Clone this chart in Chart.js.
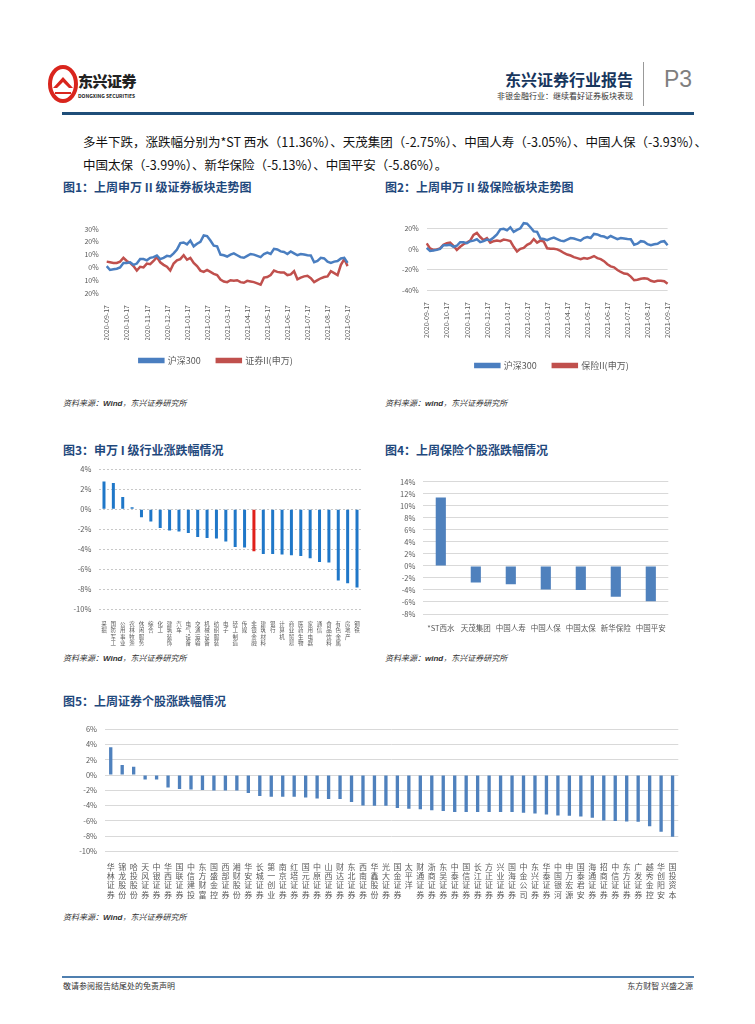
<!DOCTYPE html>
<html><head><meta charset="utf-8">
<script src="https://cdn.jsdelivr.net/npm/chart.js@4.4.1/dist/chart.umd.min.js"></script>
<style>
html,body{margin:0;padding:0;background:#fff;}
body{width:755px;height:1024px;position:relative;overflow:hidden;font-family:"Noto Sans CJK SC","Noto Sans",sans-serif;}
.abs{position:absolute;white-space:nowrap;}
.ttl{font-size:12px;font-weight:700;color:#1F497D;}
.src{font-size:8px;font-style:italic;color:#333;}
.cv{position:absolute;}
</style></head><body>
<!-- header -->
<svg class="abs" style="left:47px;top:64px" width="32" height="40" viewBox="0 0 32 40">
  <ellipse cx="16" cy="20" rx="13" ry="17" fill="none" stroke="#D9251D" stroke-width="4"/>
  <path d="M6 24 L16 13 L26 24 L22 24 L16 18 L10 24 Z" fill="#D9251D"/>
  <path d="M8 28 L24 28 L24 30 L8 30 Z" fill="#D9251D"/>
</svg>
<div class="abs" style="left:78px;top:70px;font-size:15px;font-weight:900;color:#222;letter-spacing:-0.5px">东兴证券</div>
<div class="abs" style="left:78px;top:92px;font-size:5px;font-weight:700;color:#222">DONGXING SECURITIES</div>
<div class="abs" style="right:122px;top:67px;font-size:16px;font-weight:700;color:#17365D">东兴证券行业报告</div>
<div class="abs" style="right:122px;top:90px;font-size:8px;color:#333">非银金融行业：继续看好证券板块表现</div>
<div class="abs" style="left:643px;top:62px;width:1px;height:44px;background:#999"></div>
<div class="abs" style="left:664px;top:66px;font-size:23px;color:#7F7F7F;font-family:'Liberation Sans',sans-serif">P3</div>
<div class="abs" style="left:62px;top:112px;width:632px;height:3px;background:#1F4E79"></div>

<div class="abs" style="left:83px;top:132px;font-size:12.5px;color:#111;letter-spacing:0">多半下跌，涨跌幅分别为*ST 西水（11.36%）、天茂集团（-2.75%）、中国人寿（-3.05%）、中国人保（-3.93%）、</div>
<div class="abs" style="left:83px;top:155px;font-size:12.5px;color:#111;letter-spacing:0">中国太保（-3.99%）、新华保险（-5.13%）、中国平安（-5.86%）。</div>

<div class="abs ttl" style="left:63px;top:178px">图1：上周申万 II 级证券板块走势图</div>
<div class="abs ttl" style="left:385px;top:178px">图2：上周申万 II 级保险板块走势图</div>
<div class="abs ttl" style="left:63px;top:441px">图3：申万 I 级行业涨跌幅情况</div>
<div class="abs ttl" style="left:385px;top:441px">图4：上周保险个股涨跌幅情况</div>
<div class="abs ttl" style="left:63px;top:692px">图5：上周证券个股涨跌幅情况</div>

<div class="abs src" style="left:63px;top:397px">资料来源：<b style="font-family:'Liberation Sans'">Wind</b>，东兴证券研究所</div>
<div class="abs src" style="left:385px;top:397px">资料来源：<b style="font-family:'Liberation Sans'">wind</b>，东兴证券研究所</div>
<div class="abs src" style="left:63px;top:652px">资料来源：<b style="font-family:'Liberation Sans'">Wind</b>，东兴证券研究所</div>
<div class="abs src" style="left:385px;top:652px">资料来源：<b style="font-family:'Liberation Sans'">wind</b>，东兴证券研究所</div>
<div class="abs src" style="left:63px;top:911px">资料来源：<b style="font-family:'Liberation Sans'">Wind</b>，东兴证券研究所</div>

<div class="abs" style="left:62px;top:976px;width:632px;height:2px;background:#4F7FAF"></div>
<div class="abs" style="left:63px;top:980px;font-size:8px;color:#333">敬请参阅报告结尾处的免责声明</div>
<div class="abs" style="right:62px;top:980px;font-size:8px;color:#333">东方财智 兴盛之源</div>

<div class="cv" style="left:60px;top:215px;width:300px;height:160px"><canvas id="c1"></canvas></div>
<div class="cv" style="left:380px;top:205px;width:300px;height:175px"><canvas id="c2"></canvas></div>
<div class="cv" style="left:60px;top:455px;width:310px;height:195px"><canvas id="c3"></canvas></div>
<div class="cv" style="left:380px;top:465px;width:300px;height:175px"><canvas id="c4"></canvas></div>
<div class="cv" style="left:60px;top:715px;width:630px;height:190px"><canvas id="c5"></canvas></div>

<script>
// ---------- DATA ----------
const monthLabels = ["2020-09-17","2020-10-17","2020-11-17","2020-12-17","2021-01-17","2021-02-17","2021-03-17","2021-04-17","2021-05-17","2021-06-17","2021-07-17","2021-08-17","2021-09-17"];
const pointsPerMonth = 6;
const hs300 = [1,-2,-1.5,-1,0,3.5,3.5,4,2,3,6.5,6.5,5.5,7.5,8,9.3,6.5,7.5,9,8.5,11,14,19,19.5,18,21,16.5,18.5,20,25,24.5,21,17,16.5,10,9.5,8.5,10,11,9.5,8,7.5,9,10.5,10,9,8,10.5,11.5,10.5,14.5,14,12.5,12,10.5,12.5,11,9.5,10.5,10,9.5,9.3,4,5,7.5,7,4.5,3.5,4.5,5,7,7.5,3.5];
const securitiesII = [4.5,4,3.5,3.5,4.5,7.5,5,3.5,1,-2.5,0.5,0,3,2.5,5,8,4,2,0.5,-2.5,3,5.5,6.5,9.5,6,7.5,3.5,1,-2.5,-3.5,-2,-3.5,-5,-6,-9.5,-11,-11.5,-10,-10.5,-10,-11.5,-12,-10.5,-11,-11.5,-12.5,-13.5,-8,-7.5,-6,-2.5,-3.5,-4,-4,-6,-5.5,-3,-9.3,-8,-7,-6.5,-8.5,-11.5,-10,-8.5,-7.5,-7,-3,-4.5,-6,2,6.5,1];
const insuranceII = [5.3,0.5,-1,-0.5,0.5,4,5.5,6,3,-1,2,4.5,6,8,13.5,15.5,11.5,8.5,10.5,6,7.5,8,7.5,9,8.5,7.5,2,-2.5,0,1,4,5.5,9.5,6,8,7,0.5,0,0,-0.5,-2,-4,-5.5,-6.5,-8,-9,-10,-9,-9.5,-8.5,-7,-9,-10,-12,-15,-17,-18,-20.5,-22.5,-24,-24.5,-27,-30.5,-30,-29,-28.5,-29,-31,-32,-31,-31,-31.5,-34];

const industries = ["采掘","国防军工","公用事业","农林牧渔","休闲服务","综合","化工","建筑装饰","汽车","电气设备","交通运输","机械设备","纺织服装","电子","轻工制造","传媒","非银金融","建筑材料","银行","计算机","商业贸易","医药生物","家用电器","通信","食品饮料","有色金属","房地产","钢铁"];
const industryChg = [2.77,2.63,1.23,0.2,-0.8,-1.23,-1.87,-2.13,-2.23,-2.37,-2.77,-2.87,-2.93,-3.23,-3.77,-3.83,-4.2,-4.47,-4.47,-4.53,-4.6,-4.67,-4.9,-5.27,-5.33,-7.13,-7.4,-7.83];
const highlightIndustry = "非银金融";

const insurers = ["*ST西水","天茂集团","中国人寿","中国人保","中国太保","新华保险","中国平安"];
const insurerChg = [11.36,-2.75,-3.05,-3.93,-3.99,-5.13,-5.86];

const brokers = ["华林证券","锦龙股份","哈投股份","天风证券","中银证券","华西证券","国联证券","中信建投","东方财富","国盛金控","西部证券","湘财股份","华安证券","长城证券","第一创业","南京证券","红塔证券","国元证券","中原证券","山西证券","财达证券","东北证券","西南证券","华鑫股份","光大证券","国金证券","太平洋","财通证券","浙商证券","东吴证券","中泰证券","国信证券","长江证券","方正证券","兴业证券","国海证券","中金公司","东兴证券","华泰证券","中国银河","申万宏源","国泰君安","海通证券","招商证券","中信证券","东方证券","广发证券","越秀金控","华创阳安","国投资本"];
const brokerChg = [3.63,1.31,1.09,-0.57,-0.57,-1.62,-1.84,-1.88,-1.97,-2.01,-2.01,-2.01,-2.36,-2.75,-2.84,-2.84,-2.84,-2.93,-3.06,-3.15,-3.15,-3.54,-3.98,-4.02,-4.02,-4.33,-4.42,-4.5,-4.63,-4.72,-4.85,-4.85,-4.85,-4.85,-4.85,-4.85,-4.94,-5.03,-5.16,-5.29,-5.33,-5.42,-5.6,-5.95,-6.03,-6.08,-6.12,-6.73,-7.43,-8.09];

// ---------- COMMON ----------
Chart.defaults.font.family = "'Noto Sans CJK SC','Noto Sans',sans-serif";
Chart.defaults.color = "#595959";
Chart.defaults.animation = false;
const BLUE_L = "#4A7EC0", RED_L = "#C0504D";
const tickFont = {size:7};

// shifts the bottom legend horizontally (reference legend is not centred on the canvas)
const legendShift = {
  id:"legendShift",
  afterLayout(chart, args, opts){
    if (chart.legend && opts.dx){ chart.legend.left += opts.dx; chart.legend.right += opts.dx; }
  }
};

function lineChart(id, redSeries, redName, yMin, yMax, showGrid, absLabels, pad, xH, dx){
  const labels = hs300.map((_, i) => i % pointsPerMonth === 0 ? monthLabels[i / pointsPerMonth] : "");
  new Chart(document.getElementById(id), {
    type: "line",
    data: { labels, datasets: [
      {label:"沪深300", data:hs300, borderColor:BLUE_L, backgroundColor:BLUE_L, borderWidth:2.5, pointRadius:0, tension:0},
      {label:redName, data:redSeries, borderColor:RED_L, backgroundColor:RED_L, borderWidth:2.5, pointRadius:0, tension:0}
    ]},
    plugins:[legendShift],
    options: {
      responsive:true, maintainAspectRatio:false,
      layout:{padding:pad},
      plugins:{ legendShift:{dx}, legend:{position:"bottom", labels:{boxWidth:24, boxHeight:3, font:{size:9}, padding:16}}, tooltip:{enabled:false}},
      scales:{
        x:{ grid:{display:false}, border:{display:false},
            ticks:{autoSkip:false, minRotation:90, maxRotation:90, font:tickFont, padding:4,
              callback:(v,i)=> i % pointsPerMonth === 0 ? monthLabels[i/pointsPerMonth] : null},
            afterFit:s=>{s.height = xH;} },
        y:{ min:yMin, max:yMax, border:{display:false},
            grid:{display:showGrid, color:"#D9D9D9", drawTicks:false},
            ticks:{stepSize:10, font:tickFont, padding:8, callback:v=> (absLabels?Math.abs(v):v) + "%"},
            afterFit:s=>{s.width = 46.7;} }
      }
    }
  });
}
lineChart("c1", securitiesII, "证券II(申万)", -20, 30, false, true, {top:14,right:12,left:0,bottom:0}, 47, 12);
lineChart("c2", insuranceII, "保险II(申万)", -40, 30, true, false, {top:13,right:12,left:0,bottom:0}, 55, 28);

function barChart(id, labels, values, colors, yMin, yMax, barPct, yW, pad, xH, xFont, xPad, gridDash, gridColor){
  new Chart(document.getElementById(id), {
    type:"bar",
    data:{ labels, datasets:[{data:values, backgroundColor:colors, barPercentage:barPct, categoryPercentage:1}]},
    options:{
      responsive:true, maintainAspectRatio:false,
      layout:{padding:pad},
      plugins:{legend:{display:false}, tooltip:{enabled:false}},
      scales:{
        x:{ grid:{display:false}, border:{display:false},
            ticks:{autoSkip:false, maxRotation:0, minRotation:0, font:xFont, padding:xPad},
            afterFit:s=>{s.height = xH;} },
        y:{ min:yMin, max:yMax, border:{display:false, dash:gridDash},
            grid:{color:gridColor, drawTicks:false},
            ticks:{stepSize:2, font:{size:7.5}, padding:8, callback:v=>v+"%"},
            afterFit:s=>{s.width = yW;} }
      }
    }
  });
}
const stack = arr => arr.map(n => n.split(""));
barChart("c3", stack(industries), industryChg,
  industries.map(n => n === highlightIndustry ? "#E0201B" : "#1F77C8"),
  -10, 4, 0.32, 39.3, {top:14.3,right:8.3,left:0,bottom:0}, 40.7, {size:5.5, lineHeight:1.1}, 4, [2,2], "#C8C8C8");
barChart("c4", insurers, insurerChg, "#4F81BD",
  -8, 14, 0.29, 43.3, {top:16.7,right:11.7,left:0,bottom:0}, 26, {size:7.5}, 2, [], "#D9D9D9");
barChart("c5", stack(brokers), brokerChg, "#4F81BD",
  -10, 6, 0.29, 45, {top:14.3,right:11.7,left:0,bottom:0}, 53.7, {size:8, lineHeight:1.15}, 3, [], "#D9D9D9");
</script>
</body></html>
